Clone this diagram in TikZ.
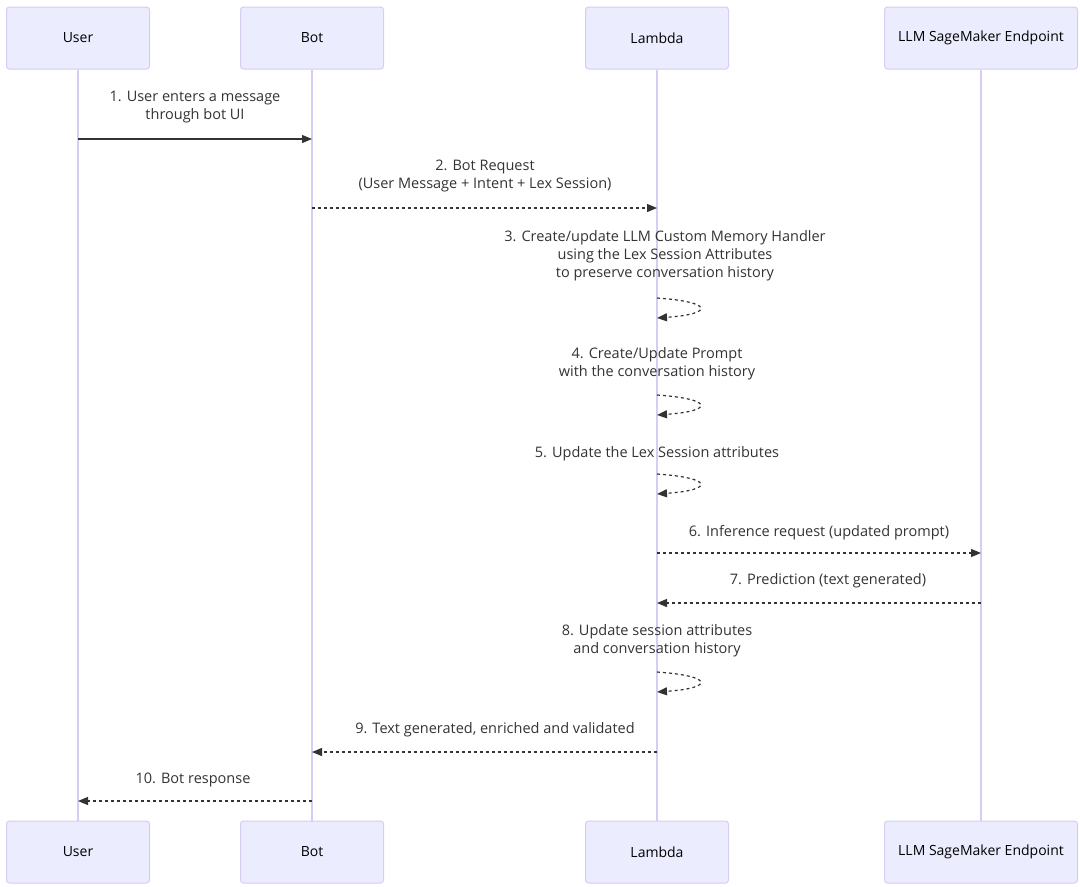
\documentclass[tikz,border=0pt]{standalone}
\usepackage{fontspec}
\setmainfont{Open Sans}
\usetikzlibrary{arrows.meta}

\definecolor{actorfill}{HTML}{ECECFF}
\definecolor{actorline}{HTML}{D6CCF4}
\definecolor{msgtext}{HTML}{333333}

\begin{document}
\begin{tikzpicture}[x=1pt,y=-1pt,>={Triangle[length=10pt,width=8pt]},
  actor/.style={draw=actorline,fill=actorfill,rounded corners=3pt,line width=1pt,
    minimum width=143pt,minimum height=62pt,text=black,font=\fontsize{14}{16}\selectfont},
  lifeline/.style={draw=actorline,line width=1.2pt},
  msg/.style={align=center,text=msgtext,font=\fontsize{14.5}{18}\selectfont},
  call/.style={->,draw=msgtext,line width=1.2pt},
  reply/.style={->,draw=msgtext,line width=1.2pt,dash pattern=on 3pt off 3pt}]

\useasboundingbox (0,0) rectangle (1080,887);

% actors, top and bottom
\node[actor] (user) at (78,38) {User};
\node[actor] (bot) at (312,38) {Bot};
\node[actor] (lambda) at (657,38) {Lambda};
\node[actor,minimum width=193pt] (llm) at (981,38) {LLM SageMaker Endpoint};

\node[actor] (userB) at (78,852) {User};
\node[actor] (botB) at (312,852) {Bot};
\node[actor] (lambdaB) at (657,852) {Lambda};
\node[actor,minimum width=193pt] (llmB) at (981,852) {LLM SageMaker Endpoint};

\draw[lifeline] (user) -- (userB);
\draw[lifeline] (bot) -- (botB);
\draw[lifeline] (lambda) -- (lambdaB);
\draw[lifeline] (llm) -- (llmB);

% points on the lifelines
\coordinate (u1) at (78,139);   \coordinate (b1) at (312,139);
\coordinate (b2) at (312,208);  \coordinate (l2) at (657,208);
\coordinate (l3a) at (657,298); \coordinate (l3b) at (657,318);
\coordinate (l4a) at (657,395); \coordinate (l4b) at (657,415);
\coordinate (l5a) at (657,474); \coordinate (l5b) at (657,494);
\coordinate (l6) at (657,553);  \coordinate (m6) at (981,553);
\coordinate (m7) at (981,603);  \coordinate (l7) at (657,603);
\coordinate (l8a) at (657,672); \coordinate (l8b) at (657,692);
\coordinate (l9) at (657,752);  \coordinate (b9) at (312,752);
\coordinate (b10) at (312,801); \coordinate (u10) at (78,801);

% labels
\node[msg] (t1) at (195,107) {1. User enters a message\\through bot UI};
\node[msg] (t2) at (485,176) {2. Bot Request\\(User Message + Intent + Lex Session)};
\node[msg] (t3) at (665,256) {3. Create/update LLM Custom Memory Handler\\using the Lex Session Attributes\\to preserve conversation history};
\node[msg] (t4) at (657,364) {4. Create/Update Prompt\\with the conversation history};
\node[msg] (t5) at (657,454) {5. Update the Lex Session attributes};
\node[msg] (t6) at (819,533) {6. Inference request (updated prompt)};
\node[msg] (t7) at (828,581) {7. Prediction (text generated)};
\node[msg] (t8) at (657,641) {8. Update session attributes\\and conversation history};
\node[msg] (t9) at (495,730) {9. Text generated, enriched and validated};
\node[msg] (t10) at (193,780) {10. Bot response};

% messages
\draw[call] (u1) -- (b1);
\draw[reply] (b2) -- (l2);
\draw[reply] (l3a) .. controls ([xshift=57pt,yshift=-4pt]l3a) and ([xshift=57pt,yshift=4pt]l3b) .. (l3b);
\draw[reply] (l4a) .. controls ([xshift=57pt,yshift=-4pt]l4a) and ([xshift=57pt,yshift=4pt]l4b) .. (l4b);
\draw[reply] (l5a) .. controls ([xshift=57pt,yshift=-4pt]l5a) and ([xshift=57pt,yshift=4pt]l5b) .. (l5b);
\draw[reply] (l6) -- (m6);
\draw[reply] (m7) -- (l7);
\draw[reply] (l8a) .. controls ([xshift=57pt,yshift=-4pt]l8a) and ([xshift=57pt,yshift=4pt]l8b) .. (l8b);
\draw[reply] (l9) -- (b9);
\draw[reply] (b10) -- (u10);

\end{tikzpicture}
\end{document}
